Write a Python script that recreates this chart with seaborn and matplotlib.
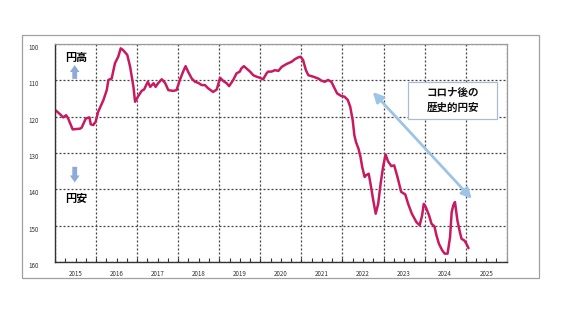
import matplotlib
matplotlib.use("Agg")
import matplotlib.pyplot as plt
import matplotlib.transforms as mtransforms
from matplotlib.patches import Rectangle
from matplotlib.ticker import FixedLocator, FuncFormatter
import numpy as np
import pandas as pd
import seaborn as sns

# ---- data (fractional year, yen level) ----
times = [
    2015.00, 2015.04, 2015.12, 2015.20, 2015.27, 2015.32, 2015.43, 2015.61, 2015.65, 2015.75,
    2015.84, 2015.87, 2015.93, 2015.99, 2016.05, 2016.18, 2016.26, 2016.30, 2016.38, 2016.46,
    2016.54, 2016.60, 2016.66, 2016.76, 2016.83, 2016.91, 2016.95, 2017.03, 2017.11, 2017.17,
    2017.26, 2017.32, 2017.40, 2017.45, 2017.51, 2017.60, 2017.68, 2017.76, 2017.88, 2017.96,
    2018.04, 2018.12, 2018.18, 2018.24, 2018.33, 2018.41, 2018.49, 2018.57, 2018.65, 2018.73,
    2018.85, 2018.94, 2019.02, 2019.10, 2019.18, 2019.24, 2019.34, 2019.42, 2019.50, 2019.54,
    2019.60, 2019.66, 2019.75, 2019.83, 2019.91, 2019.99, 2020.07, 2020.15, 2020.19, 2020.27,
    2020.36, 2020.44, 2020.52, 2020.64, 2020.76, 2020.84, 2020.92, 2020.98, 2021.04, 2021.11,
    2021.17, 2021.29, 2021.41, 2021.49, 2021.57, 2021.65, 2021.73, 2021.81, 2021.87, 2021.97,
    2022.05, 2022.13, 2022.19, 2022.25, 2022.29, 2022.33, 2022.39, 2022.44, 2022.48, 2022.54,
    2022.58, 2022.64, 2022.69, 2022.75, 2022.81, 2022.87, 2022.93, 2022.99, 2023.05, 2023.11,
    2023.19, 2023.26, 2023.34, 2023.43, 2023.53, 2023.60, 2023.69, 2023.80, 2023.88, 2023.94,
    2023.98, 2024.03, 2024.11, 2024.17, 2024.24, 2024.29, 2024.35, 2024.43, 2024.49, 2024.56,
    2024.62, 2024.66, 2024.70, 2024.74, 2024.80, 2024.86, 2024.90, 2024.97, 2025.02, 2025.07,
]
values = [
    118.2, 118.5, 119.3, 120.2, 119.6, 120.5, 123.5, 123.3, 123.0, 120.5,
    120.2, 122.1, 122.3, 121.4, 118.7, 115.4, 112.7, 109.9, 109.5, 105.3,
    103.5, 101.2, 101.7, 103.0, 106.3, 111.8, 115.9, 114.3, 112.9, 112.5,
    110.4, 111.8, 110.8, 111.8, 110.8, 109.7, 110.7, 112.7, 112.9, 112.7,
    109.9, 107.6, 106.1, 107.6, 109.5, 110.4, 110.7, 111.3, 111.3, 112.2,
    113.2, 112.5, 109.3, 110.2, 110.8, 111.6, 109.9, 108.1, 107.6, 106.7,
    106.1, 106.7, 107.6, 108.6, 109.0, 109.3, 109.7, 108.1, 107.6, 107.6,
    107.2, 107.4, 106.3, 105.5, 104.9, 104.2, 103.7, 103.5, 104.4, 107.2,
    108.6, 109.0, 109.5, 110.1, 110.4, 109.9, 110.4, 112.2, 113.6, 114.3,
    114.5, 115.4, 117.3, 121.0, 125.1, 127.0, 128.8, 131.1, 133.8, 136.6,
    136.1, 135.7, 138.9, 143.0, 146.7, 144.0, 138.4, 133.8, 130.4, 132.3,
    133.6, 133.4, 136.6, 140.7, 141.4, 144.0, 146.7, 149.0, 149.9, 147.2,
    144.0, 144.9, 147.2, 149.5, 150.2, 152.7, 155.0, 156.8, 157.7, 157.7,
    153.2, 146.3, 144.4, 143.5, 148.6, 151.8, 153.6, 154.1, 155.0, 156.2,
]
year_labels = [str(y) for y in range(2015, 2026)]
y_ticks = [100, 110, 120, 130, 140, 150, 160]
label_up = "円高"
label_down = "円安"
box_text = "コロナ後の\n歴史的円安"

df = pd.DataFrame({"t": times, "v": values})

sns.set_theme(style="white")
plt.rcParams["font.family"] = ["Noto Sans CJK JP", "DejaVu Sans"]

fig = plt.figure(figsize=(5.68, 3.2), dpi=100)
fig.patch.set_facecolor("white")

# outer frame
fig.add_artist(Rectangle((22 / 568, 1 - 278 / 320), 517 / 568, 243 / 320,
                         transform=fig.transFigure, fill=False,
                         edgecolor="#a0a0a0", lw=0.9))

ax = fig.add_axes([55 / 568, 1 - 262 / 320, 451.7 / 568, 218 / 320])
sns.lineplot(data=df, x="t", y="v", ax=ax, color="#c81a60", lw=1.8,
             estimator=None, sort=False)

ax.set_xlim(2015, 2026)
ax.set_ylim(160, 100)
ax.set_xlabel("")
ax.set_ylabel("")

# x ticks: major at year boundaries (gridlines), minor quarters with labels at mid-year
years = np.arange(2015, 2027)
ax.xaxis.set_major_locator(FixedLocator(years))
ax.xaxis.set_major_formatter(FuncFormatter(lambda x, p: ""))
quarters = [y + q for y in range(2015, 2026) for q in (0.25, 0.5, 0.75)]
ax.xaxis.set_minor_locator(FixedLocator(quarters))
lab_map = {round(int(l) + 0.5, 2): l for l in year_labels}
ax.xaxis.set_minor_formatter(FuncFormatter(lambda x, p: lab_map.get(round(x, 2), "")))
ax.tick_params(axis="x", which="both", direction="in", length=3, width=0.8,
               color="#333333", bottom=True)
ax.tick_params(axis="x", which="minor", labelsize=4.5, pad=6, labelcolor="#333333")

ax.set_yticks(y_ticks)
ax.set_yticklabels([str(v) for v in y_ticks])
ax.tick_params(axis="y", length=0, labelsize=4.5, pad=12, labelcolor="#333333")
off = mtransforms.ScaledTranslation(0, -3 / 100, fig.dpi_scale_trans)
for lab in ax.get_yticklabels():
    lab.set_transform(lab.get_transform() + off)

ax.grid(True, which="major", axis="both", color="#444444",
        linestyle=(0, (1.6, 1.6)), lw=0.9)
ax.set_axisbelow(True)

for side in ("left", "bottom"):
    ax.spines[side].set_color("#333333")
    ax.spines[side].set_linewidth(1.0)
for side in ("top", "right"):
    ax.spines[side].set_color("#9a9a9a")
    ax.spines[side].set_linewidth(0.9)

# 円高 / 円安 labels with arrows
arrow_style = "simple,head_length=0.5,head_width=0.7,tail_width=0.35"
ax.text(2015.51, 103.6, label_up, ha="center", va="center", fontsize=8,
        fontweight="bold", color="black")
ax.annotate("", xy=(2015.48, 105.8), xytext=(2015.48, 109.6),
            arrowprops=dict(arrowstyle=arrow_style, color="#8eaad8", lw=0,
                            shrinkA=0, shrinkB=0, mutation_scale=10))
ax.annotate("", xy=(2015.48, 138.1), xytext=(2015.48, 133.8),
            arrowprops=dict(arrowstyle=arrow_style, color="#8eaad8", lw=0,
                            shrinkA=0, shrinkB=0, mutation_scale=10))
ax.text(2015.51, 142.6, label_down, ha="center", va="center", fontsize=8,
        fontweight="bold", color="black")

# annotation box
ax.add_patch(Rectangle((0.782, 0.6546), 0.197, 0.1725, transform=ax.transAxes,
                       facecolor="white", edgecolor="#a9bcd6", lw=0.9, zorder=3))
ax.text(0.881, 0.741, box_text, transform=ax.transAxes, ha="center", va="center",
        fontsize=7.6, fontweight="bold", linespacing=1.55, color="#111111", zorder=4)

# double-headed arrow
ax.annotate("", xy=(2025.15, 142.6), xytext=(2022.74, 113.2),
            arrowprops=dict(arrowstyle="<|-|>,head_length=0.5,head_width=0.25",
                            color="#9dc3e6", lw=2.0, shrinkA=0, shrinkB=0))

fig.savefig("out.png", dpi=100)
